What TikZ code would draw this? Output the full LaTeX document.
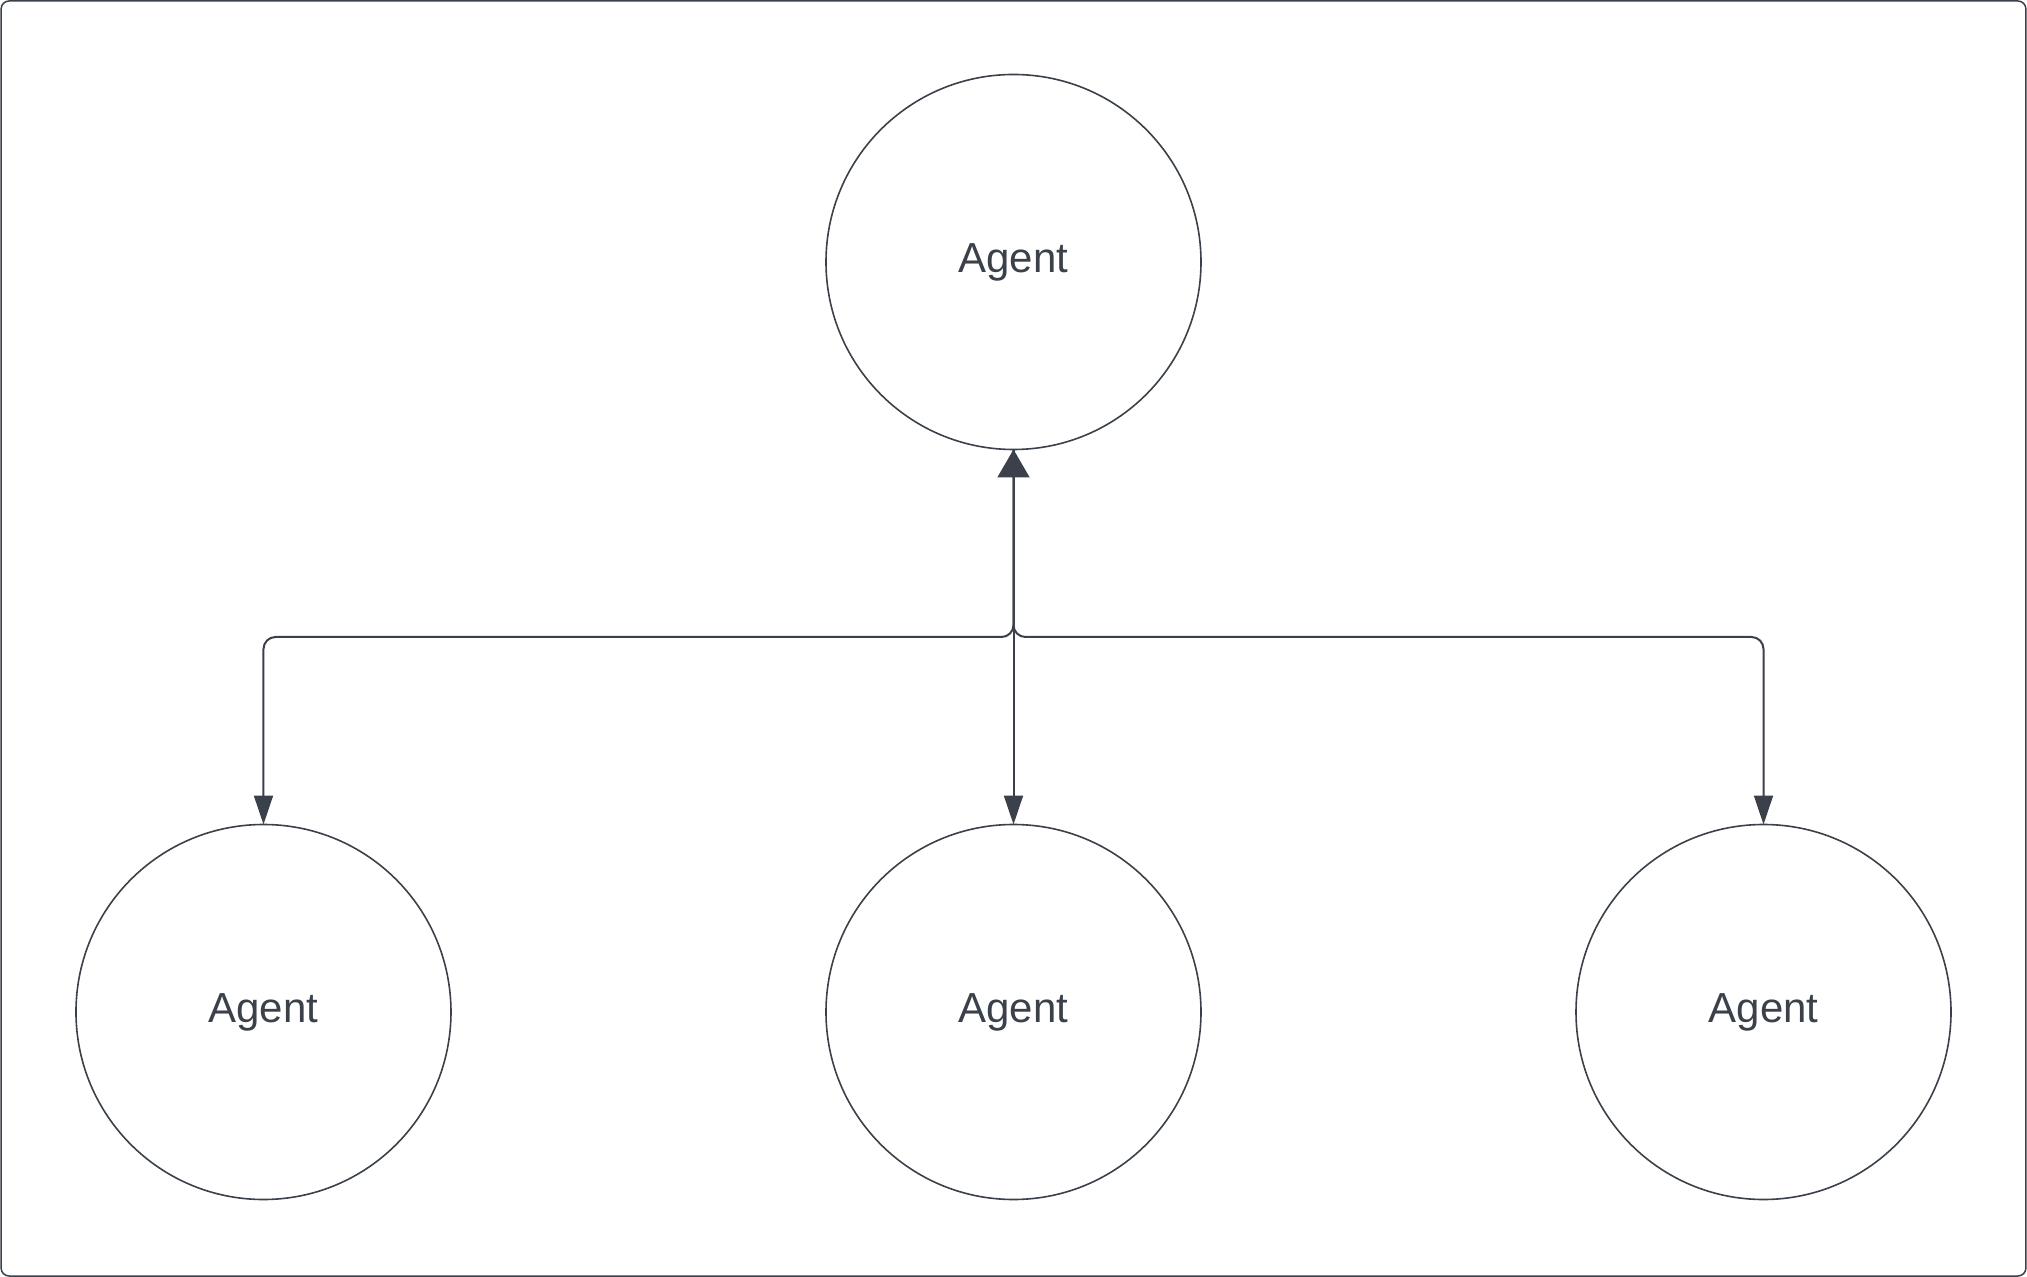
\documentclass[tikz,border=0pt]{standalone}
\usepackage{fontspec}
\setmainfont{Liberation Sans}
\usetikzlibrary{positioning}
\usetikzlibrary{arrows.meta}
\definecolor{inkgray}{HTML}{3A414A}

\begin{document}
\begin{tikzpicture}
    [
    node distance=375pt and 375pt,
    on grid,
    every node/.style={text=inkgray, font=\fontsize{21pt}{25pt}\selectfont},
    agent/.style={draw=inkgray, circle, line width=0.8pt, minimum size=187.5pt, inner sep=0pt, outer sep=0pt},
    link/.style={draw=inkgray, line width=1pt, rounded corners=6pt},
    tipin/.style={-{Triangle[length=14.5pt,width=9.5pt]}},
    ]

    % frame
    \useasboundingbox (-506.75pt,131pt) rectangle (506.75pt,-507.5pt);
    \draw[draw=inkgray, line width=0.75pt, rounded corners=4pt] (-506.2pt,130.5pt) rectangle (506.2pt,-507pt);

    \node[agent] (ag_top) {Agent};
    \node[agent, below = of ag_top] (ag_mid) {Agent};
    \node[agent, left = of ag_mid] (ag_left) {Agent};
    \node[agent, right = of ag_mid] (ag_right) {Agent};

    \coordinate[below = 187.5pt of ag_top] (split);

    \draw[link, {Triangle[length=14pt,width=16pt]}-{Triangle[length=14.5pt,width=9.5pt]}] (ag_top.south) -- (ag_mid.north);
    \draw[link, tipin] (ag_top.south) -- (split) -| (ag_left.north);
    \draw[link, tipin] (ag_top.south) -- (split) -| (ag_right.north);
\end{tikzpicture}
\end{document}
